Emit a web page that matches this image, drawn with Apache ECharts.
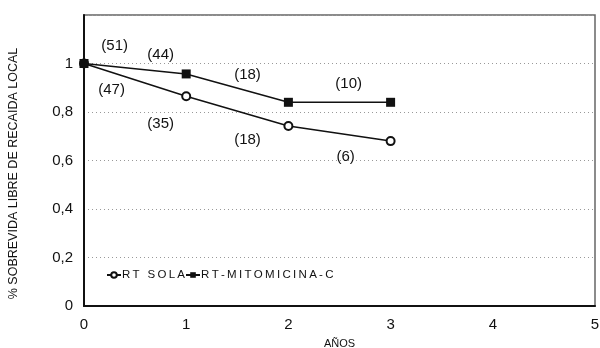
<!DOCTYPE html>
<html>
<head>
<meta charset="utf-8">
<script src="https://cdn.jsdelivr.net/npm/echarts@6/dist/echarts.min.js"></script>
<style>html,body{margin:0;padding:0;background:#fff}#chart{width:600px;height:348px}</style>
</head>
<body>
<div id="chart"></div>
<script>
var years = [0, 1, 2, 3];
var rtSola = [1, 0.865, 0.742, 0.68];
var rtMito = [1, 0.957, 0.84, 0.84];
// numbers at risk, written next to each curve
var soloCounts = ['(47)', '(35)', '(18)', '(6)'];
var soloCountAt = [[0.27, 0.89], [0.75, 0.75], [1.6, 0.686], [2.56, 0.616]];
var mitoCounts = ['(51)', '(44)', '(18)', '(10)'];
var mitoCountAt = [[0.3, 1.073], [0.75, 1.037], [1.6, 0.955], [2.59, 0.914]];

function pairs(xs, ys) {
    return xs.map(function(x, i) { return [x, ys[i]]; });
}
function notes(texts, at) {
    return texts.map(function(t, i) {
        return { coord: at[i], value: t };
    });
}
var noteStyle = {
    symbol: 'circle', symbolSize: 0,
    label: { show: true, position: 'inside', color: '#111', fontSize: 15, fontFamily: 'Liberation Sans', formatter: '{c}' },
    itemStyle: { color: 'transparent' }
};

var myChart = echarts.init(document.getElementById('chart'));
myChart.setOption({
    animation: false,
    grid: {
        left: 84, right: 5, top: 15, bottom: 42, outerBoundsMode: 'none',
        show: true, borderColor: '#666', borderWidth: 1.5
    },
    legend: {
        left: 101, top: 264, itemGap: 0, itemWidth: 14, itemHeight: 7,
        textStyle: { fontSize: 11.5, color: '#111', fontFamily: 'Liberation Sans', padding: [0, 0, 0, -4] },
        formatter: function(name) { return name.split('').join('\u2009'); },
        data: ['RT SOLA', 'RT-MITOMICINA-C']
    },
    xAxis: {
        type: 'value', min: 0, max: 5, interval: 1,
        name: 'AÑOS', nameLocation: 'middle', nameGap: 32,
        nameTextStyle: { fontSize: 11, color: '#111', fontFamily: 'Liberation Sans' },
        axisLine: { lineStyle: { color: '#111', width: 2 } },
        axisTick: { show: false },
        axisLabel: { fontSize: 15, color: '#111', fontFamily: 'Liberation Sans', margin: 11 },
        splitLine: { show: false }
    },
    yAxis: {
        type: 'value', min: 0, max: 1.2, interval: 0.2,
        name: '% SOBREVIDA LIBRE DE RECAIDA LOCAL', nameLocation: 'middle', nameGap: 64,
        nameTextStyle: { fontSize: 12.5, color: '#111', fontFamily: 'Liberation Sans', padding: [0, 26, 0, 0] },
        axisLine: { lineStyle: { color: '#111', width: 2 } },
        axisTick: { show: false },
        axisLabel: {
            fontSize: 15, color: '#111', fontFamily: 'Liberation Sans', margin: 11,
            formatter: function(v) {
                if (v > 1.1) return '';
                return String(Math.round(v * 10) / 10).replace('.', ',');
            }
        },
        splitLine: { lineStyle: { color: '#999', type: [1, 3], width: 1 } }
    },
    series: [
        {
            name: 'RT SOLA', type: 'line', data: pairs(years, rtSola),
            symbol: 'emptyCircle', symbolSize: 8,
            lineStyle: { color: '#111', width: 1.5 },
            itemStyle: { color: '#111', borderWidth: 1 },
            markPoint: Object.assign({ data: notes(soloCounts, soloCountAt) }, noteStyle)
        },
        {
            name: 'RT-MITOMICINA-C', type: 'line', data: pairs(years, rtMito),
            symbol: 'rect', symbolSize: 9,
            lineStyle: { color: '#111', width: 1.5 },
            itemStyle: { color: '#111' },
            markPoint: Object.assign({ data: notes(mitoCounts, mitoCountAt) }, noteStyle)
        }
    ]
});
</script>
</body>
</html>
